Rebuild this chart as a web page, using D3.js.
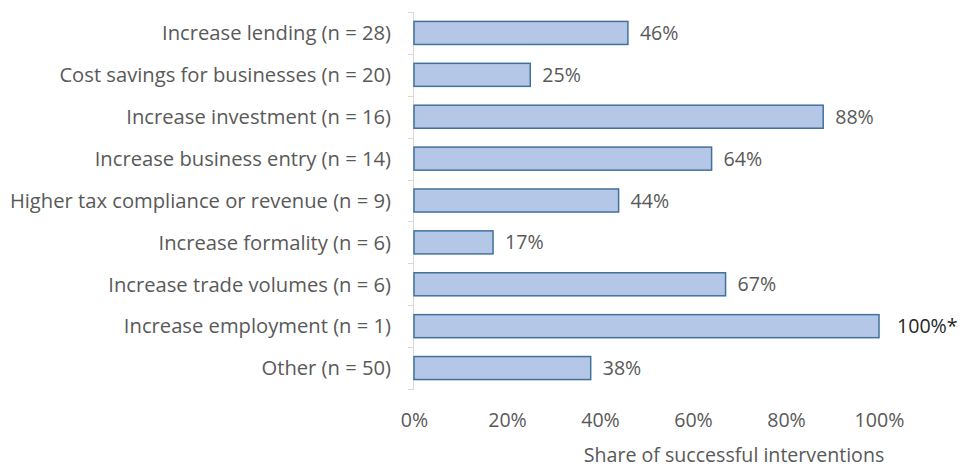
<!DOCTYPE html>
<html>
<head>
<meta charset="utf-8">
<script src="https://cdn.jsdelivr.net/npm/d3@7"></script>
<style>
  html, body { margin: 0; padding: 0; background: #fff; }
  svg { display: block; font-family: "Open Sans", sans-serif; }
</style>
</head>
<body>
<svg id="chart" width="966" height="467"></svg>
<script>
// Outcome categories with sample sizes, top to bottom
const categories = [
  "Increase lending (n = 28)",
  "Cost savings for businesses (n = 20)",
  "Increase investment (n = 16)",
  "Increase business entry (n = 14)",
  "Higher tax compliance or revenue (n = 9)",
  "Increase formality (n = 6)",
  "Increase trade volumes (n = 6)",
  "Increase employment (n = 1)",
  "Other (n = 50)"
];
// Share of successful interventions, in percent
const shares = [46, 25, 88, 64, 44, 17, 67, 100, 38];
// Label suffix (footnote marker) for each bar
const labelSuffix = ["", "", "", "", "", "", "", "*", ""];
const xTicks = [0, 20, 40, 60, 80, 100];
const xTitle = "Share of successful interventions";

const svg = d3.select("#chart");
const plot = { left: 414, right: 879, top: 12, bottom: 389 };
const fontSize = 19.6;
const catFontSize = 20.2;

const x = d3.scaleLinear().domain([0, 100]).range([plot.left, plot.right]);
const y = d3.scaleBand().domain(categories).range([plot.top, plot.bottom]).paddingInner(0.45).paddingOuter(0.225);

// Category axis: light grey line with boundary ticks
const yAxisG = svg.append("g");
yAxisG.append("line")
  .attr("x1", plot.left - 0.5).attr("x2", plot.left - 0.5)
  .attr("y1", plot.top).attr("y2", plot.bottom)
  .attr("stroke", "#d9d9d9").attr("stroke-width", 1);
const step = (plot.bottom - plot.top) / categories.length;
yAxisG.selectAll("line.tick").data(d3.range(categories.length + 1)).join("line")
  .attr("class", "tick")
  .attr("x1", plot.left - 6).attr("x2", plot.left)
  .attr("y1", i => Math.round(plot.top + i * step) + 0.5)
  .attr("y2", i => Math.round(plot.top + i * step) + 0.5)
  .attr("stroke", "#d9d9d9").attr("stroke-width", 1);

// Category labels
svg.append("g").selectAll("text").data(categories).join("text")
  .attr("x", 391)
  .attr("y", d => y(d) + y.bandwidth() / 2)
  .attr("dy", "0.36em")
  .attr("text-anchor", "end")
  .attr("font-size", catFontSize)
  .attr("fill", "#595959")
  .text(d => d);

// Bars
svg.append("g").selectAll("rect").data(shares).join("rect")
  .attr("x", x(0))
  .attr("y", (d, i) => y(categories[i]))
  .attr("width", d => x(d) - x(0))
  .attr("height", y.bandwidth())
  .attr("fill", "#b4c7e7")
  .attr("stroke", "#41719c")
  .attr("stroke-width", 1.5);

// Value labels
svg.append("g").selectAll("text").data(shares).join("text")
  .attr("x", (d, i) => x(d) + (labelSuffix[i] ? 18 : 12))
  .attr("y", (d, i) => y(categories[i]) + y.bandwidth() / 2)
  .attr("dy", "0.36em")
  .attr("font-size", fontSize)
  .attr("fill", (d, i) => labelSuffix[i] ? "#262626" : "#595959")
  .text((d, i) => d + "%" + labelSuffix[i]);

// Value axis tick labels (no axis line)
const xAxis = d3.axisBottom(x).tickValues(xTicks).tickFormat(d => d + "%").tickSize(0).tickPadding(0);
const xg = svg.append("g").attr("transform", "translate(0, 427)").call(xAxis);
xg.select(".domain").remove();
xg.selectAll("text")
  .attr("font-family", "Open Sans, sans-serif")
  .attr("font-size", fontSize)
  .attr("fill", "#595959")
  .attr("dy", 0);

// Axis title
svg.append("text")
  .attr("x", 734).attr("y", 462)
  .attr("text-anchor", "middle")
  .attr("font-size", fontSize)
  .attr("fill", "#595959")
  .text(xTitle);
</script>
</body>
</html>
